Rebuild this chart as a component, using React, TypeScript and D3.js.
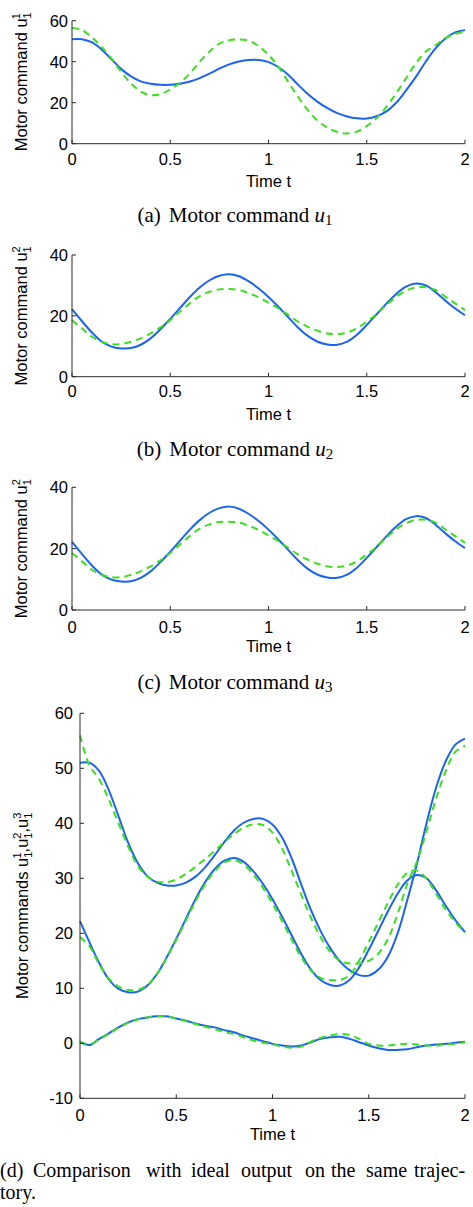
import React from 'react';
import * as d3 from 'd3';

// ---------- data ----------
const TIME = [0, 0.05, 0.1, 0.15, 0.2, 0.25, 0.3, 0.35, 0.4, 0.45, 0.5, 0.55, 0.6, 0.65, 0.7, 0.75, 0.8, 0.85, 0.9, 0.95, 1.0,
  1.05, 1.1, 1.15, 1.2, 1.25, 1.3, 1.35, 1.4, 1.45, 1.5, 1.55, 1.6, 1.65, 1.7, 1.75, 1.8, 1.85, 1.9, 1.95, 2.0];

const X_TICKS = [0, 0.5, 1, 1.5, 2];
const X_TICK_LABELS = ['0', '0.5', '1', '1.5', '2'];
const Y_TICKS_A = [0, 20, 40, 60];
const Y_TICKS_BC = [0, 20, 40];
const Y_TICKS_D = [-10, 0, 10, 20, 30, 40, 50, 60];
const Y_TICK_LABELS_D = ['-10', '0', '10', '20', '30', '40', '50', '60'];

// learned (solid blue) motor commands
const U1_ACTUAL = [51.0, 51.0, 49.5, 46.0, 41.3, 36.5, 32.8, 30.4, 29.2, 28.7, 28.7, 29.2, 30.3, 32.0, 34.2, 36.6, 38.7, 40.1, 40.8, 40.8, 39.8,
  37.4, 33.6, 28.8, 24.2, 20.4, 17.3, 14.9, 13.3, 12.4, 12.3, 13.4, 15.8, 20.0, 26.0, 32.6, 40.0, 46.5, 51.3, 54.3, 55.4];
const U2_ACTUAL = [22.2, 18.3, 14.6, 11.6, 9.9, 9.3, 9.4, 10.5, 12.6, 15.6, 19.0, 22.6, 26.2, 29.3, 31.7, 33.2, 33.7, 33.0, 31.3, 29.0, 26.2,
  23.0, 19.6, 16.2, 13.4, 11.5, 10.6, 10.5, 11.5, 13.8, 17.0, 20.5, 24.0, 27.2, 29.6, 30.6, 30.0, 27.8, 25.0, 22.4, 20.2];
const U3_ACTUAL = [0.2, -0.3, 0.8, 1.8, 2.9, 3.8, 4.4, 4.7, 4.9, 4.9, 4.5, 4.1, 3.6, 3.2, 2.9, 2.4, 2.0, 1.4, 0.9, 0.4, -0.1,
  -0.4, -0.6, -0.4, 0.2, 0.8, 1.1, 1.2, 0.8, 0.2, -0.4, -0.9, -1.2, -1.2, -1.1, -0.7, -0.4, -0.2, -0.1, 0.1, 0.3];

// ideal (dashed green) commands, panels (a)-(c)
const U1_IDEAL_A = [56.5, 55.5, 52.0, 47.3, 41.6, 35.1, 29.4, 25.4, 23.7, 24.2, 26.5, 29.8, 34.3, 40.0, 45.0, 48.8, 50.5, 50.9, 50.2, 47.6, 43.3,
  37.6, 30.2, 22.9, 16.4, 11.2, 7.8, 5.7, 5.0, 5.9, 8.6, 12.4, 18.0, 24.6, 31.9, 39.2, 44.9, 48.0, 51.5, 53.6, 54.6];
const U2_IDEAL_B = [18.6, 15.9, 13.2, 11.5, 10.7, 10.7, 11.5, 12.6, 14.2, 16.2, 18.6, 21.4, 24.1, 26.5, 27.9, 28.7, 28.8, 28.5, 27.4, 26.1, 24.3,
  22.5, 20.3, 18.1, 16.4, 15.1, 14.2, 14.0, 14.5, 15.9, 18.1, 20.6, 23.6, 26.3, 28.3, 29.3, 29.4, 28.5, 26.3, 24.1, 21.9];

// ideal (dashed green) commands, panel (d)
const U1_IDEAL_D = [56.0, 50.5, 48.0, 44.3, 40.0, 35.8, 32.3, 30.3, 29.4, 29.3, 29.8, 30.8, 32.1, 33.5, 35.0, 36.6, 38.0, 39.2, 39.8, 39.7, 38.3,
  35.4, 31.3, 27.0, 22.8, 19.3, 16.6, 15.0, 14.5, 14.5, 15.0, 16.3, 19.0, 23.5, 29.0, 33.0, 38.5, 44.5, 49.5, 53.0, 54.1];
const U2_IDEAL_D = [19.3, 17.6, 14.3, 11.8, 10.3, 9.7, 9.7, 10.6, 12.6, 15.5, 18.8, 22.3, 25.8, 28.9, 31.3, 32.9, 33.3, 32.5, 30.7, 28.3, 25.4,
  22.2, 18.8, 15.6, 13.2, 11.9, 11.5, 11.5, 12.4, 15.0, 18.4, 22.0, 25.6, 28.8, 31.0, 31.4, 29.9, 27.2, 24.3, 22.0, 20.1];
const U3_IDEAL_D = [0.3, -0.2, 0.7, 1.7, 2.8, 3.7, 4.3, 4.7, 4.9, 4.9, 4.5, 4.0, 3.5, 3.0, 2.6, 2.0, 1.7, 1.1, 0.5, 0.1, -0.2,
  -0.6, -0.8, -0.6, 0.3, 1.0, 1.4, 1.7, 1.5, 0.8, -0.1, -0.4, -0.4, -0.2, -0.1, -0.2, -0.4, -0.4, -0.2, -0.1, 0.2];

// ---------- style ----------
const BLUE = '#1a64f0';
const GREEN = '#3ae01a';
const AXIS = '#2a2a2a';
const SANS = '"Liberation Sans", Arial, Helvetica, sans-serif';
const SERIF = '"Liberation Serif", "Times New Roman", Times, serif';
const FS = 16.5;
const SFS = 11;
const CFS = 21;

type Script = [string, string];

function YLabel({ x, y, head, scripts }: { x: number; y: number; head: string; scripts: Script[] }) {
  const parts: React.ReactNode[] = [];
  const w1 = SFS * 0.556;
  scripts.forEach((s, i) => {
    parts.push(
      <tspan key={'u' + i} fontSize={FS} dy={i === 0 ? 0 : 7.5}>{(i === 0 ? head : ',') + 'u'}</tspan>
    );
    parts.push(<tspan key={'b' + i} fontSize={SFS} dy={4}>{s[0]}</tspan>);
    parts.push(<tspan key={'p' + i} fontSize={SFS} dx={-w1} dy={-11.5}>{s[1]}</tspan>);
  });
  return (
    <text transform={`translate(${x},${y}) rotate(-90)`} textAnchor="middle" fontFamily={SANS} fill="#000">
      {parts}
    </text>
  );
}

type PanelProps = {
  left: number; right: number; top: number; bottom: number;
  domain: [number, number];
  yTicks: number[]; yTickLabels: string[];
  yTickGap: number;
  xTickBase: number; timeBase: number;
  series: { values: number[]; dashed: boolean }[];
  label: { x: number; head: string; scripts: Script[] };
};

function Panel(p: PanelProps) {
  const x = d3.scaleLinear().domain([0, 2]).range([p.left, p.right]);
  const y = d3.scaleLinear().domain(p.domain).range([p.bottom, p.top]);
  const line = d3.line<number>()
    .x((_, i) => x(TIME[i]))
    .y(d => y(d))
    .curve(d3.curveCatmullRom.alpha(0.5));
  const tk = 4;
  return (
    <g>
      {p.series.map((s, i) => (
        <path key={i} d={line(s.values) || ''} fill="none"
          stroke={s.dashed ? GREEN : BLUE} strokeWidth={2}
          strokeDasharray={s.dashed ? '7,5' : undefined} />
      ))}
      <line x1={p.left} x2={p.left} y1={p.top} y2={p.bottom} stroke={AXIS} strokeWidth={1} />
      <line x1={p.left} x2={p.right} y1={p.bottom} y2={p.bottom} stroke={AXIS} strokeWidth={1} />
      {X_TICKS.map((t, i) => (
        <g key={'x' + i}>
          <line x1={x(t)} x2={x(t)} y1={p.bottom} y2={p.bottom - tk} stroke={AXIS} strokeWidth={1} />
          <text x={x(t)} y={p.xTickBase} textAnchor="middle" fontFamily={SANS} fontSize={FS}>{X_TICK_LABELS[i]}</text>
        </g>
      ))}
      {p.yTicks.map((v, i) => (
        <g key={'y' + i}>
          <line x1={p.left} x2={p.left + tk} y1={y(v)} y2={y(v)} stroke={AXIS} strokeWidth={1} />
          <text x={p.left - p.yTickGap} y={y(v)} dy="0.36em" textAnchor="end" fontFamily={SANS} fontSize={FS}>{p.yTickLabels[i]}</text>
        </g>
      ))}
      <text x={(p.left + p.right) / 2} y={p.timeBase} textAnchor="middle" fontFamily={SANS} fontSize={FS}>Time t</text>
      <YLabel x={p.label.x} y={(p.top + p.bottom) / 2} head={p.label.head} scripts={p.label.scripts} />
    </g>
  );
}

function Caption({ y, letter, sub }: { y: number; letter: string; sub: string }) {
  return (
    <text x={235} y={y} textAnchor="middle" fontFamily={SERIF} fontSize={CFS} fill="#000">
      {`(${letter})`}
      <tspan dx={8}>{'Motor command '}</tspan>
      <tspan fontStyle="italic">u</tspan>
      <tspan fontSize={15} dy={3}>{sub}</tspan>
    </text>
  );
}

const CAPTION_D_WORDS = ['(d)', 'Comparison', 'with', 'ideal', 'output', 'on', 'the', 'same', 'trajec-'];
const CAPTION_D_X = [0, 33, 146, 191, 241, 305, 331, 366, 414];

export default function App() {
  return (
    <svg width={473} height={1207} style={{ position: 'absolute', left: 0, top: 0, background: '#fff' }}>
      <rect x={0} y={0} width={473} height={1207} fill="#fff" />
      <Panel left={72} right={465} top={20.7} bottom={143.7} domain={[0, 60]}
        yTicks={Y_TICKS_A} yTickLabels={Y_TICKS_A.map(String)} yTickGap={4}
        xTickBase={165} timeBase={186.5}
        series={[{ values: U1_ACTUAL, dashed: false }, { values: U1_IDEAL_A, dashed: true }]}
        label={{ x: 27, head: 'Motor command ', scripts: [['1', '1']] }} />
      <Caption y={222} letter="a" sub="1" />

      <Panel left={72} right={465} top={255} bottom={376.7} domain={[0, 40]}
        yTicks={Y_TICKS_BC} yTickLabels={Y_TICKS_BC.map(String)} yTickGap={4}
        xTickBase={396.5} timeBase={419.5}
        series={[{ values: U2_ACTUAL, dashed: false }, { values: U2_IDEAL_B, dashed: true }]}
        label={{ x: 27, head: 'Motor command ', scripts: [['1', '2']] }} />
      <Caption y={456} letter="b" sub="2" />

      <Panel left={72} right={465} top={487.3} bottom={610} domain={[0, 40]}
        yTicks={Y_TICKS_BC} yTickLabels={Y_TICKS_BC.map(String)} yTickGap={4}
        xTickBase={633} timeBase={652}
        series={[{ values: U2_ACTUAL, dashed: false }, { values: U2_IDEAL_B, dashed: true }]}
        label={{ x: 27, head: 'Motor command ', scripts: [['1', '2']] }} />
      <Caption y={689} letter="c" sub="3" />

      <Panel left={80} right={465} top={713.3} bottom={1098.3} domain={[-10, 60]}
        yTicks={Y_TICKS_D} yTickLabels={Y_TICK_LABELS_D} yTickGap={7}
        xTickBase={1121} timeBase={1140}
        series={[
          { values: U1_ACTUAL, dashed: false }, { values: U2_ACTUAL, dashed: false }, { values: U3_ACTUAL, dashed: false },
          { values: U1_IDEAL_D, dashed: true }, { values: U2_IDEAL_D, dashed: true }, { values: U3_IDEAL_D, dashed: true },
        ]}
        label={{ x: 28, head: 'Motor commands ', scripts: [['1', '1'], ['1', '2'], ['1', '3']] }} />
      <g fontFamily={SERIF} fontSize={20} fill="#000">
        {CAPTION_D_WORDS.map((w, i) => (
          <text key={i} x={CAPTION_D_X[i]} y={1177}>{w}</text>
        ))}
        <text x={0} y={1199}>tory.</text>
      </g>
    </svg>
  );
}
